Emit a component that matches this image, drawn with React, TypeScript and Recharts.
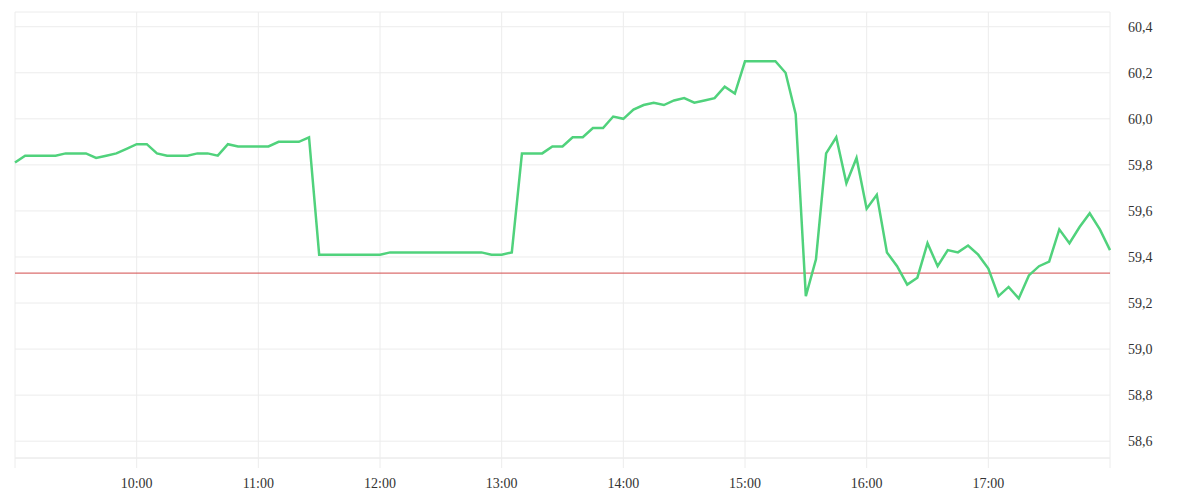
import React from 'react'
import { LineChart, Line, XAxis, YAxis, CartesianGrid, ReferenceLine } from 'recharts'

// 5-minute quotes, 09:00 - 18:00
const times = [
  '09:00', '09:05', '09:10', '09:15', '09:20', '09:25', '09:30', '09:35', '09:40', '09:45', '09:50', '09:55',
  '10:00', '10:05', '10:10', '10:15', '10:20', '10:25', '10:30', '10:35', '10:40', '10:45', '10:50', '10:55',
  '11:00', '11:05', '11:10', '11:15', '11:20', '11:25', '11:30', '11:35', '11:40', '11:45', '11:50', '11:55',
  '12:00', '12:05', '12:10', '12:15', '12:20', '12:25', '12:30', '12:35', '12:40', '12:45', '12:50', '12:55',
  '13:00', '13:05', '13:10', '13:15', '13:20', '13:25', '13:30', '13:35', '13:40', '13:45', '13:50', '13:55',
  '14:00', '14:05', '14:10', '14:15', '14:20', '14:25', '14:30', '14:35', '14:40', '14:45', '14:50', '14:55',
  '15:00', '15:05', '15:10', '15:15', '15:20', '15:25', '15:30', '15:35', '15:40', '15:45', '15:50', '15:55',
  '16:00', '16:05', '16:10', '16:15', '16:20', '16:25', '16:30', '16:35', '16:40', '16:45', '16:50', '16:55',
  '17:00', '17:05', '17:10', '17:15', '17:20', '17:25', '17:30', '17:35', '17:40', '17:45', '17:50', '17:55',
  '18:00',
]

const prices = [
  59.81, 59.84, 59.84, 59.84, 59.84, 59.85, 59.85, 59.85, 59.83, 59.84, 59.85, 59.87,
  59.89, 59.89, 59.85, 59.84, 59.84, 59.84, 59.85, 59.85, 59.84, 59.89, 59.88, 59.88,
  59.88, 59.88, 59.90, 59.90, 59.90, 59.92, 59.41, 59.41, 59.41, 59.41, 59.41, 59.41,
  59.41, 59.42, 59.42, 59.42, 59.42, 59.42, 59.42, 59.42, 59.42, 59.42, 59.42, 59.41,
  59.41, 59.42, 59.85, 59.85, 59.85, 59.88, 59.88, 59.92, 59.92, 59.96, 59.96, 60.01,
  60.00, 60.04, 60.06, 60.07, 60.06, 60.08, 60.09, 60.07, 60.08, 60.09, 60.14, 60.11,
  60.25, 60.25, 60.25, 60.25, 60.20, 60.02, 59.23, 59.39, 59.85, 59.92, 59.72, 59.83,
  59.61, 59.67, 59.42, 59.36, 59.28, 59.31, 59.46, 59.36, 59.43, 59.42, 59.45, 59.41,
  59.35, 59.23, 59.27, 59.22, 59.32, 59.36, 59.38, 59.52, 59.46, 59.53, 59.59, 59.52,
  59.43,
]

const prevClose = 59.33

const hourTicks = ['09:00', '10:00', '11:00', '12:00', '13:00', '14:00', '15:00', '16:00', '17:00', '18:00']
const priceTicks = [58.6, 58.8, 59.0, 59.2, 59.4, 59.6, 59.8, 60.0, 60.2, 60.4]

const toMin = (t: string) => {
  const [h, m] = t.split(':').map(Number)
  return h * 60 + m
}

const data = times.map((t, i) => ({ t: toMin(t), price: prices[i] }))
const xTicks = hourTicks.map(toMin)
const xMin = xTicks[0]
const xMax = xTicks[xTicks.length - 1]

// first and last hour only get a tick line, no label
const fmtTime = (v: number) => {
  if (v === xMin || v === xMax) return ''
  const h = Math.floor(v / 60)
  return `${String(h).padStart(2, '0')}:00`
}

const fmtPrice = (v: number) => v.toFixed(1).replace('.', ',')

const tickStyle = { fontSize: 14, fill: '#333', fontFamily: '"Liberation Serif", serif' }

export default function App() {
  return (
    <div style={{ position: 'absolute', left: 0, top: 0, width: 1200, height: 500, background: '#fff' }}>
      <LineChart width={1200} height={500} data={data} margin={{ top: 12, right: 0, bottom: 0, left: 15 }}>
        <CartesianGrid stroke="#ececec" />
        <XAxis
          dataKey="t"
          type="number"
          domain={[xMin, xMax]}
          ticks={xTicks}
          tickFormatter={fmtTime}
          height={42}
          stroke="#ececec"
          tickSize={10}
          tickMargin={10}
          tick={tickStyle}
          interval={0}
        />
        <YAxis
          orientation="right"
          type="number"
          domain={[58.527, 60.464]}
          ticks={priceTicks}
          tickFormatter={fmtPrice}
          allowDataOverflow
          width={90}
          axisLine={false}
          tickLine={false}
          tickSize={6}
          tickMargin={12}
          tick={tickStyle}
          interval={0}
        />
        <ReferenceLine y={prevClose} stroke="#d24a4a" strokeWidth={1} />
        <Line
          type="linear"
          dataKey="price"
          stroke="#50d27c"
          strokeWidth={2.5}
          dot={false}
          isAnimationActive={false}
        />
      </LineChart>
    </div>
  )
}
